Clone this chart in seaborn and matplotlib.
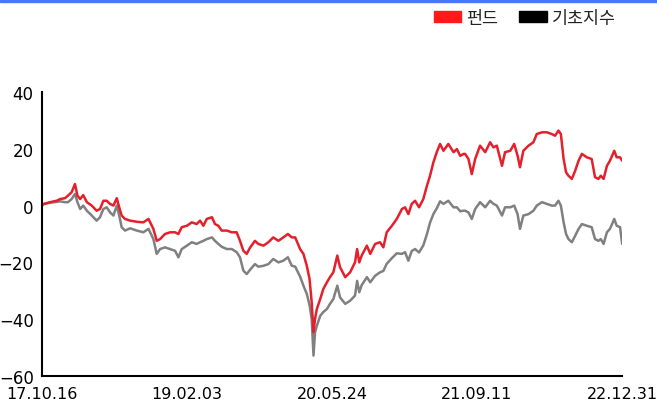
import matplotlib
matplotlib.use('Agg')
import matplotlib.pyplot as plt
import matplotlib.patches as mpatches
import seaborn as sns
import pandas as pd

# days since 2017-10-16, fund return (%), benchmark return (%)
day_offsets = [0, 4, 26, 48, 59, 75, 85, 97, 108, 116, 125, 135, 147, 163, 179, 190, 201, 212, 223, 234,
               245, 253, 261, 272, 289, 311, 332, 349, 365, 376, 387, 403, 420, 436, 447, 458, 475, 491, 507, 518,
               529, 540, 557, 567, 578, 589, 606, 622, 638, 649, 660, 671, 682, 698, 709, 726, 742, 758, 775, 791,
               806, 819, 830, 846, 857, 868, 877, 884, 890, 895, 901, 912, 922, 934, 944, 955, 968, 977, 994, 1010,
               1026, 1033, 1040, 1048, 1065, 1076, 1092, 1108, 1119, 1130, 1147, 1163, 1180, 1190, 1201, 1212, 1223, 1236, 1250, 1262,
               1272, 1283, 1294, 1305, 1316, 1332, 1349, 1360, 1371, 1382, 1387, 1398, 1409, 1420, 1436, 1453, 1469, 1480, 1491, 1508,
               1518, 1535, 1548, 1559, 1567, 1578, 1595, 1611, 1622, 1639, 1655, 1671, 1682, 1693, 1701, 1710, 1718, 1726, 1737, 1748,
               1759, 1770, 1786, 1802, 1813, 1824, 1832, 1841, 1852, 1862, 1876, 1884, 1895, 1902]
fund = [0, 0.5, 1.2, 1.7, 2.3, 2.6, 3.5, 4.7, 7.6, 3.5, 2.3, 3.7, 1.2, 0, -1.8, -1.2, 1.7, 1.7, 0.6, 0,
        2.6, -0.6, -3.5, -4.7, -5.3, -5.7, -5.9, -4.7, -8.2, -12.4, -11.8, -10, -9.4, -9.4, -10, -7.6, -7.1, -5.9, -6.5, -5.3,
        -7.1, -4.7, -4.1, -6.5, -7.1, -8.8, -8.8, -9.4, -9.4, -12.4, -15.9, -17, -14.8, -12.4, -13.5, -14.1, -12.9, -11.2, -12.4, -11.2,
        -10, -11.2, -11.2, -15.3, -17, -21.2, -25.8, -34, -44.6, -39.9, -36.4, -32.9, -29.4, -27, -25.2, -23.5, -17.6, -21.7, -25.2, -23.5,
        -20, -15.3, -20, -17.6, -14.1, -17, -13.5, -12.9, -14.7, -9.4, -7.1, -4.7, -1.2, -0.6, -3, 0.6, 1.7, -0.6, 2.3, 7,
        10.5, 15.2, 18.8, 21.7, 19.3, 21.7, 18.8, 19.9, 17.5, 18.2, 18.2, 16.4, 11.1, 16.4, 21.1, 18.8, 22.3, 20.5, 21.1, 14,
        18.8, 19.3, 21.7, 17.6, 13.5, 19.3, 21.1, 22.3, 25.2, 25.8, 25.8, 25.2, 24.6, 26.4, 25.2, 16.4, 11.7, 10.5, 9.4, 12.3,
        15.8, 18.2, 17, 16.4, 10, 9.4, 10.5, 9.4, 14, 15.8, 19.3, 17, 17, 15.8]
bench = [0, 0.5, 1.0, 1.3, 1.5, 1.2, 1.2, 2.3, 4.1, 1.2, -1.2, 0, -1.8, -3.5, -5.3, -4.1, -1.2, -0.6, -2.4, -3.5,
         0, -3.5, -7.6, -8.8, -8, -8.8, -9.4, -8.2, -11.8, -17, -15.3, -14.7, -15.3, -15.9, -18.2, -15.3, -14.1, -12.9, -13.5, -12.9,
         -12.4, -11.8, -11.2, -12.4, -13.5, -14.5, -15.3, -15.3, -16.4, -18.2, -22.9, -24.1, -22.6, -20.6, -21.5, -21.2, -20.6, -18.8, -20, -19.4,
         -18.2, -21.2, -21.5, -25, -28.2, -31.1, -35, -39.9, -52.8, -44.6, -42.3, -38.8, -37.5, -36.4, -34.6, -32.9, -28.2, -32.3, -34.6, -33.5,
         -31.7, -26.5, -30.5, -28, -25.2, -27, -24.7, -23.5, -23, -20.5, -18.5, -16.8, -17, -16.4, -19.4, -16, -15.3, -16.5, -14, -10,
         -6, -3, -1, 1.5, 0.6, 1.7, -0.6, -0.6, -2, -1.8, -1.8, -2.4, -4.7, -1.2, 1.2, -0.6, 1.7, 0.6, 0, -3.5,
         -0.6, -0.6, 0, -3, -8.2, -3.5, -3, -1.8, 0, 1.2, 0.6, 0, 0, 1.7, 0, -5.9, -10, -11.8, -12.9, -10.6,
         -8.2, -6.5, -7.1, -7.6, -11.8, -12.4, -11.8, -13.5, -9.4, -8.2, -4.7, -7.1, -7.6, -13.5]

tick_dates = ['2017-10-16', '2019-02-03', '2020-05-24', '2021-09-11', '2022-12-31']
tick_labels = ['17.10.16', '19.02.03', '20.05.24', '21.09.11', '22.12.31']
series_names = ['펀드', '기초지수']

start = pd.Timestamp('2017-10-16')
df = pd.DataFrame({'date': start + pd.to_timedelta(day_offsets, unit='D'),
                   'fund': fund, 'bench': bench})

sns.set_style('white')
plt.rcParams['font.family'] = ['DejaVu Sans', 'Noto Sans CJK KR']

fig = plt.figure(figsize=(6.57, 4.06), dpi=100)
ax = fig.add_axes([0.064, 0.0714, 0.883, 0.6996])

sns.lineplot(x='date', y='bench', data=df, ax=ax, color='#808080', linewidth=1.8)
sns.lineplot(x='date', y='fund', data=df, ax=ax, color='#e3202b', linewidth=1.8)

ax.set_xlim(start, pd.Timestamp('2022-12-31'))
ax.set_ylim(-60, 40)
ax.set_yticks([-60, -40, -20, 0, 20, 40])
ax.set_xticks(pd.to_datetime(tick_dates))
ax.set_xticklabels(tick_labels)
ax.set_xlabel('')
ax.set_ylabel('')
ax.tick_params(axis='y', length=5, width=1.3, labelsize=12, pad=1, colors='black')
ax.tick_params(axis='x', length=0, labelsize=11.5, pad=7, colors='black')
sns.despine(ax=ax)
for s in ['left', 'bottom']:
    ax.spines[s].set_color('black')
    ax.spines[s].set_linewidth(1.5)

handles = [mpatches.Patch(color='#ff1a1a', label=series_names[0]),
           mpatches.Patch(color='black', label=series_names[1])]
fig.legend(handles=handles, loc='upper right', bbox_to_anchor=(0.962, 1.015), ncol=2, frameon=False,
           fontsize=12.5, handlelength=1.6, handleheight=0.6, handletextpad=0.3, columnspacing=1.2,
           labelcolor='#222222')

fig.add_artist(mpatches.Rectangle((0, 0.993), 1, 0.007, transform=fig.transFigure, color='#4479f2'))

fig.savefig('out.png', dpi=100)
